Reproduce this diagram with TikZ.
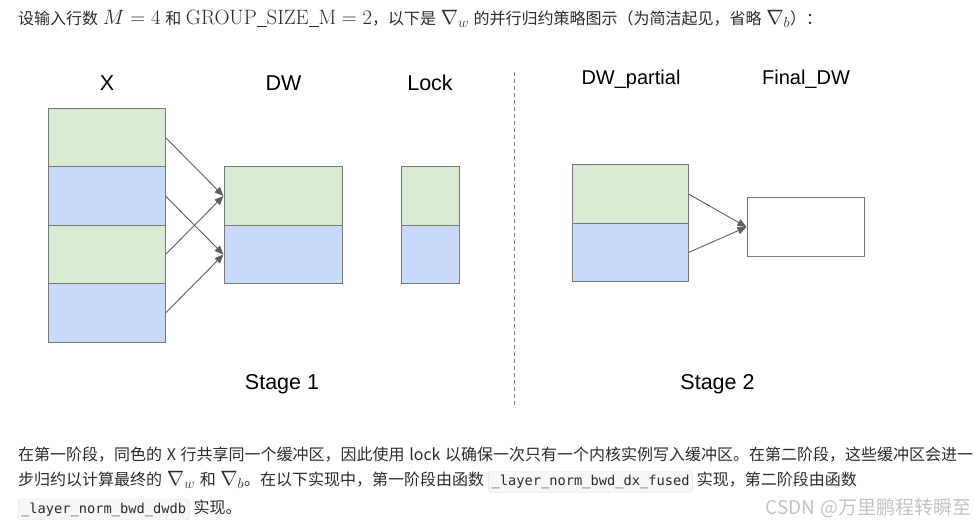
\documentclass[tikz,border=0pt]{standalone}
\usepackage[no-math]{fontspec}
\setmainfont{Noto Sans CJK SC}[WordSpace=1.3]
\setmonofont{DejaVu Sans Mono}
\newfontfamily\lblfont{Liberation Sans}
\usetikzlibrary{arrows.meta,positioning}
\definecolor{cellgreen}{HTML}{D9EAD3}
\definecolor{cellblue}{HTML}{C9DAF8}
\definecolor{cellline}{HTML}{787878}
\definecolor{arrowgray}{HTML}{5F5F5F}
\definecolor{bodytext}{HTML}{2B2B2B}
\definecolor{codebg}{HTML}{F6F7F8}
\definecolor{codeline}{HTML}{DCDEE1}
\definecolor{markgray}{HTML}{C4C4C4}
\newcommand\mth[1]{{\fontsize{19.5}{22}\selectfont$#1$}}
\newcommand\wus{\rule[-1.6pt]{0.5em}{0.55pt}}

\begin{document}
\begin{tikzpicture}[x=1pt,y=-1pt,
  cell/.style={draw=cellline,line width=1pt,minimum width=#1,minimum height=58.5pt,inner sep=0pt},
  flow/.style={arrowgray,line width=0.9pt,-{Triangle[length=9pt,width=7.5pt]}},
  lbl/.style={font=\lblfont\fontsize{21.5}{24}\selectfont,anchor=base,inner sep=0pt},
  body/.style={font=\fontsize{16}{18}\selectfont,text=bodytext,inner sep=0pt},
  code/.style={draw=codeline,fill=codebg,rounded corners=3pt,font=\ttfamily\fontsize{13.7}{16}\selectfont,
    text=bodytext,inner xsep=3pt,inner ysep=4pt,text height=10pt,text depth=3pt}]
  \useasboundingbox (0,0) rectangle (975,524);
  % intro line
  \node[body,anchor=base west] (t0) at (18,24.5) {设输入行数 \mth{M=4} 和 \mth{\mathrm{GROUP}\wus\mathrm{SIZE}\wus\mathrm{M}=2}，以下是 \mth{\nabla_w} 的并行归约策略图示（为简洁起见，省略 \mth{\nabla_b}）：};
  % stage 1 buffers
  \foreach \i/\c/\y in {1/cellgreen/137.5,2/cellblue/196,3/cellgreen/254.5,4/cellblue/313}
    {\node[cell=117pt,fill=\c] (x\i) at (106.5,\y) {};}
  \foreach \i/\c/\y in {1/cellgreen/196,2/cellblue/254.5}
    {\node[cell=118pt,fill=\c] (dw\i) at (283,\y) {};
     \node[cell=58pt,fill=\c] (lk\i) at (430,\y) {};}
  % stage 2 buffers
  \foreach \i/\c/\y in {1/cellgreen/194,2/cellblue/252.5}
    {\node[cell=116pt,fill=\c] (dwp\i) at (630,\y) {};}
  \node[cell=117pt,fill=white] (fdw) at (805.5,227) {};
  \foreach \a/\b in {x1/dw1,x3/dw1,x2/dw2,x4/dw2,dwp1/fdw,dwp2/fdw}
    {\draw[flow] (\a.east) -- (\b.west);}
  % headers
  \node[lbl] (xlbl) at (107,91) {X};
  \node[lbl] (dwlbl) at (283.5,91) {DW};
  \node[lbl] (lklbl) at (430,91) {Lock};
  \node[lbl,font=\lblfont\fontsize{20}{24}\selectfont] (dwplbl) at (631,84.5) {DW\_partial};
  \node[lbl,font=\lblfont\fontsize{20}{24}\selectfont] (fdwlbl) at (806,84.5) {Final\_DW};
  \node[lbl] (s1lbl) at (282,389) {Stage 1};
  \node[lbl] (s2lbl) at (717.5,389) {Stage 2};
  % divider
  \coordinate (divtop) at (514,72);
  \coordinate (divbot) at (514,405);
  \draw[gray,line width=0.9pt,dash pattern=on 4pt off 3pt] (divtop) -- (divbot);
  % explanation
  \node[body,anchor=base west] (t1) at (18,460) {在第一阶段，同色的 X 行共享同一个缓冲区，因此使用 lock 以确保一次只有一个内核实例写入缓冲区。在第二阶段，这些缓冲区会进一};
  \node[body,anchor=base west] (t2a) at (18,485.5) {步归约以计算最终的 \mth{\nabla_w} 和 \mth{\nabla_b}。在以下实现中，第一阶段由函数};
  \node[code,base right=4pt of t2a] (c1) {\_layer\_norm\_bwd\_dx\_fused};
  \node[body,base right=4pt of c1] (t2b) {实现，第二阶段由函数};
  \node[code,anchor=base west] (c2) at (18,513) {\_layer\_norm\_bwd\_dwdb};
  \node[body,base right=4pt of c2] (t3) {实现。};
  \node[font=\fontsize{19}{21}\selectfont,text=markgray,anchor=east,inner sep=0pt] (mark) at (972,508) {CSDN @万里鹏程转瞬至};
\end{tikzpicture}
\end{document}
